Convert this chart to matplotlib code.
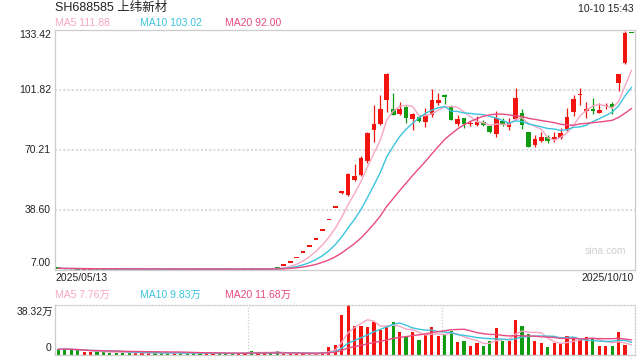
import numpy as np
import pandas as pd
import matplotlib
matplotlib.use("Agg")
import matplotlib.pyplot as plt

plt.rcParams['font.family'] = ['Liberation Sans', 'Noto Sans CJK SC', 'DejaVu Sans']

# ---------------- data ----------------
title = "SH688585 上纬新材"
timestamp = "10-10 15:43"
date_start = "2025/05/13"
date_end = "2025/10/10"
price_ticks = [7.00, 38.60, 70.21, 101.82, 133.42]
vol_top_label = "38.32万"
vol_max = 38.32
ma_price_labels = ["MA5 111.88", "MA10 103.02", "MA20 92.00"]
ma_vol_labels = ["MA5 7.76万", "MA10 9.83万", "MA20 11.68万"]

opens = [7.90, 7.72, 7.62, 7.55, 7.30, 7.38, 7.50, 7.45, 7.42, 7.40,
         7.38, 7.36, 7.35, 7.38, 7.05, 7.40, 7.38, 7.36, 7.33, 7.40,
         7.38, 7.36, 7.35, 7.33, 7.36, 7.42, 7.40, 7.15, 7.05, 7.40,
         7.50, 7.46, 7.54, 7.62, 7.85,
         9.34, 11.21, 13.45, 16.14, 19.37, 23.24, 27.89, 33.47, 40.16, 47.9,
         46.6, 54.5, 56.8, 64.2, 80.5, 84.0, 96.3, 91.9, 88.8, 92.6,
         86.2, 87.4, 84.7, 88.4, 94.6, 98.6, 93.2, 84.0, 86.7, 83.8,
         83.2, 84.9, 82.6, 78.3, 85.3, 82.1, 86.2, 89.4, 79.7, 72.6,
         74.7, 77.0, 75.2, 76.5, 80.9, 90.2, 99.1, 90.5, 91.5, 89.7,
         93.3, 94.1, 105.5, 116.0, 131.88]
highs = [7.95, 7.80, 7.68, 7.60, 7.45, 7.50, 7.55, 7.50, 7.46, 7.44,
         7.42, 7.40, 7.41, 7.44, 7.18, 7.45, 7.42, 7.40, 7.42, 7.44,
         7.42, 7.40, 7.38, 7.40, 7.44, 7.46, 7.44, 7.18, 7.20, 7.46,
         7.56, 7.58, 7.65, 7.68, 7.90,
         9.34, 11.21, 13.45, 16.14, 19.37, 23.24, 27.89, 33.47, 40.16, 48.7,
         58.1, 62.5, 66.8, 79.5, 93.7, 99.1, 110.8, 100.2, 95.5, 93.2,
         89.7, 87.9, 92.3, 102.3, 100.2, 99.5, 93.8, 88.3, 87.1, 85.3,
         87.9, 85.8, 83.3, 90.5, 87.1, 86.7, 102.5, 91.8, 79.7, 77.7,
         79.7, 77.7, 79.7, 81.8, 92.3, 98.8, 102.8, 95.3, 97.2, 94.9,
         94.9, 95.3, 110.3, 132.7, 131.88]
lows = [7.65, 7.55, 7.50, 7.42, 7.25, 7.32, 7.38, 7.35, 7.33, 7.30,
        7.28, 7.27, 7.30, 7.33, 7.00, 7.32, 7.30, 7.28, 7.30, 7.32,
        7.31, 7.30, 7.28, 7.30, 7.33, 7.34, 7.32, 7.02, 7.02, 7.36,
        7.40, 7.42, 7.50, 7.52, 7.70,
        9.34, 11.21, 13.45, 16.14, 19.37, 23.24, 27.89, 33.47, 40.16, 46.9,
        45.8, 53.7, 56.3, 63.3, 74.2, 83.1, 90.0, 88.4, 88.3, 84.4,
        80.7, 84.8, 82.3, 87.6, 93.7, 94.2, 85.6, 82.6, 81.4, 82.6,
        82.8, 82.8, 78.8, 77.0, 82.8, 80.4, 85.8, 80.9, 71.6, 71.6,
        74.3, 73.9, 74.4, 76.1, 80.3, 87.9, 93.7, 86.7, 88.8, 89.3,
        91.4, 88.8, 101.1, 115.6, 131.88]
closes = [7.72, 7.62, 7.55, 7.48, 7.40, 7.46, 7.42, 7.40, 7.38, 7.35,
          7.33, 7.32, 7.37, 7.40, 7.12, 7.36, 7.34, 7.32, 7.38, 7.36,
          7.35, 7.33, 7.32, 7.36, 7.40, 7.38, 7.36, 7.05, 7.15, 7.42,
          7.44, 7.52, 7.60, 7.58, 7.78,
          9.34, 11.21, 13.45, 16.14, 19.37, 23.24, 27.89, 33.47, 40.16, 48.19,
          57.2, 56.3, 65.6, 78.8, 84.0, 91.4, 109.9, 88.4, 91.4, 86.8,
          88.8, 85.3, 88.4, 96.2, 96.2, 98.3, 85.6, 86.2, 84.0, 84.1,
          84.7, 83.2, 79.5, 87.1, 83.2, 84.4, 97.2, 83.2, 71.6, 76.1,
          76.8, 74.7, 77.0, 79.1, 87.6, 96.7, 99.5, 91.8, 91.1, 91.1,
          93.6, 92.6, 109.9, 131.88, 131.88]
volumes = [4.3, 4.8, 3.9, 3.6, 2.2, 2.0, 3.0, 2.3, 1.8, 1.9,
           1.6, 1.7, 1.8, 1.5, 1.4, 1.6, 1.5, 1.7, 1.3, 1.5,
           1.4, 1.2, 1.3, 1.4, 1.2, 1.1, 1.2, 1.3, 1.4, 1.6,
           3.4, 1.5, 1.8, 1.6, 3.2,
           1.0, 0.6, 0.7, 0.8, 1.0, 1.3, 2.55, 6.4, 7.66, 30.7,
           38.32, 22.2, 22.2, 21.5, 25.5, 19.2, 22.2, 25.5, 17.9, 14.0,
           17.9, 11.5, 15.3, 21.5, 14.6, 15.3, 18.4, 10.2, 11.0, 6.9,
           9.2, 6.9, 11.0, 20.7, 11.0, 11.0, 26.8, 22.2, 16.1, 10.7,
           9.2, 6.1, 9.2, 8.7, 14.6, 13.8, 11.5, 13.8, 12.5, 6.9,
           6.9, 6.9, 17.6, 7.66, 0.0]

# ---------------- style ----------------
RED = "#f2150f"
GREEN = "#0f9c12"
C_MA5 = "#f7a6c3"
C_MA10 = "#3cc4df"
C_MA20 = "#ea4a82"
BORDER = "#cccccc"
GRID = "#dcdcdc"

W, H = 640, 360


def fx(px):
    return px / W


def fy(py):
    return 1 - py / H


o = np.array(opens); h = np.array(highs); l = np.array(lows); c = np.array(closes)
v = np.array(volumes)
n = len(c)
x = np.arange(n)

cols = []
for i in range(n):
    if c[i] > o[i]:
        cols.append(RED)
    elif c[i] < o[i]:
        cols.append(GREEN)
    else:
        prev = c[i - 1] if i > 0 else c[i]
        cols.append(RED if c[i] > prev else GREEN)

cs = pd.Series(c)
ma5 = cs.rolling(5, min_periods=1).mean()
ma10 = cs.rolling(10, min_periods=1).mean()
ma20 = cs.rolling(20, min_periods=1).mean()
vs = pd.Series(v)
vma5 = vs.rolling(5, min_periods=1).mean()
vma10 = vs.rolling(10, min_periods=1).mean()
vma20 = vs.rolling(20, min_periods=1).mean()

fig = plt.figure(figsize=(6.4, 3.6), dpi=100)
fig.patch.set_facecolor("white")

ax = fig.add_axes([fx(54.5), fy(269.7), 580 / W, 240 / H])
axv = fig.add_axes([fx(54.5), fy(355), 580 / W, 50 / H])

xlim = (-0.6, 89.47)

# price panel
ax.set_xlim(*xlim)
ax.set_ylim(price_ticks[0], price_ticks[-1])
for t in price_ticks[1:-1]:
    ax.axhline(t, color=GRID, lw=1.5, ls=(0, (1, 1)), zorder=0)

min_h = 0.9
bodies = np.maximum(np.abs(c - o), min_h)
mids = (o + c) / 2
ax.vlines(x, l, h, colors=cols, lw=0.9, zorder=2)
ax.bar(x, bodies, bottom=mids - bodies / 2, width=0.72, color=cols, linewidth=0, zorder=3)
ax.plot(x, ma5, color=C_MA5, lw=1.0, zorder=4)
ax.plot(x, ma10, color=C_MA10, lw=1.0, zorder=4)
ax.plot(x, ma20, color=C_MA20, lw=1.0, zorder=4)
ax.set_xticks([]); ax.set_yticks([])
for s in ax.spines.values():
    s.set_color(BORDER); s.set_linewidth(0.9)

ax.text(0.985, 0.08, "sina.com", transform=ax.transAxes, ha="right", va="center",
        color="#d0d0d0", fontsize=7.5)

# volume panel
axv.set_xlim(*xlim)
axv.set_ylim(0, vol_max)
axv.bar(x, v, width=0.5, color=cols, linewidth=0, zorder=2)
axv.plot(x, vma5, color=C_MA5, lw=1.0, zorder=4)
axv.plot(x, vma10, color=C_MA10, lw=1.0, zorder=4)
axv.plot(x, vma20, color=C_MA20, lw=1.0, zorder=4)
for gx in (29.5, 59.5):
    axv.axvline(gx, color=BORDER, lw=0.9, ls=(0, (1, 1.5)), zorder=0)
axv.set_xticks([]); axv.set_yticks([])
for k, s in axv.spines.items():
    s.set_color(BORDER); s.set_linewidth(0.9)
    if k in ("top", "right"):
        s.set_linestyle((0, (1, 1.5)))

# texts
fig.text(fx(55), fy(7.5), title, ha="left", va="center", fontsize=9, color="#222222")
fig.text(fx(634), fy(8.5), timestamp, ha="right", va="center", fontsize=7.5, color="#222222")
for lab, px_, col in zip(ma_price_labels, (55, 140, 225), (C_MA5, C_MA10, C_MA20)):
    fig.text(fx(px_), fy(23.5), lab, ha="left", va="center", fontsize=7.5, color=col)
for lab, px_, col in zip(ma_vol_labels, (55, 140, 225), (C_MA5, C_MA10, C_MA20)):
    fig.text(fx(px_), fy(294.5), lab, ha="left", va="center", fontsize=7.5, color=col)

tick_y = {0: 263.5, 1: 209.7, 2: 149.7, 3: 89.7, 4: 35.5}
for i, t in enumerate(price_ticks):
    fig.text(fx(51), fy(tick_y[i]), f"{t:.2f}", ha="right", va="center", fontsize=7.5, color="#222222")

fig.text(fx(55), fy(278), date_start, ha="left", va="center", fontsize=7.5, color="#222222")
fig.text(fx(634), fy(278), date_end, ha="right", va="center", fontsize=7.5, color="#222222")

fig.text(fx(53), fy(311.7), vol_top_label, ha="right", va="center", fontsize=7.5, color="#222222")
fig.text(fx(51), fy(348), "0", ha="right", va="center", fontsize=7.5, color="#222222")

fig.savefig("out.png", dpi=100, facecolor="white")
